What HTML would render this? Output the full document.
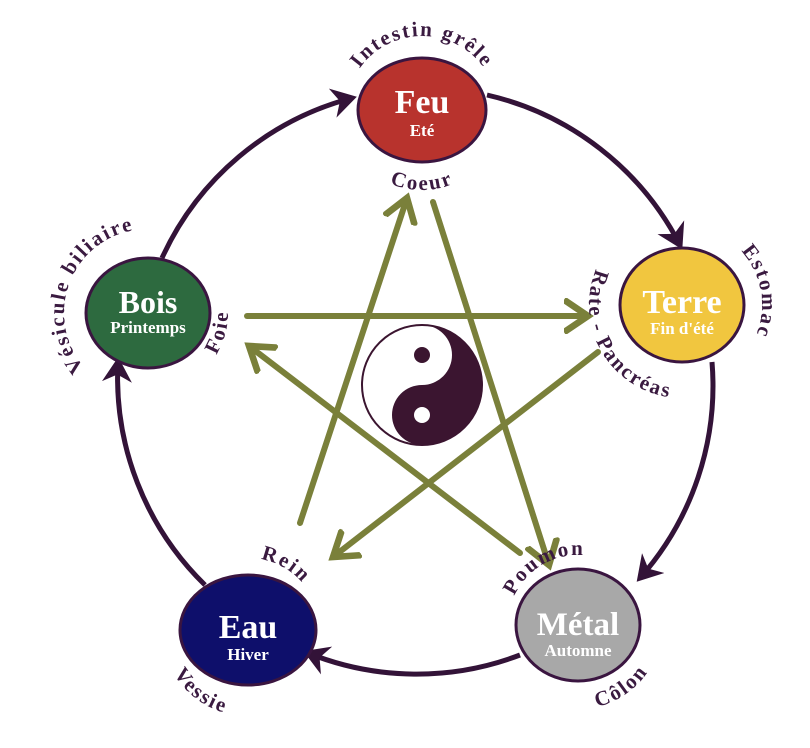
<!DOCTYPE html>
<html><head><meta charset="utf-8"><style>
html,body{margin:0;padding:0;background:#fff;width:810px;height:748px;overflow:hidden}
svg{display:block}
.lab{font-family:"Liberation Serif",serif;font-weight:bold;fill:#3a1a40;font-size:21px;letter-spacing:2px}
.big{font-family:"Liberation Serif",serif;font-weight:bold;fill:#fff;text-anchor:middle}
</style></head><body>
<svg width="810" height="748" viewBox="0 0 810 748" xmlns="http://www.w3.org/2000/svg">
<defs>
<marker id="pa" markerWidth="6" markerHeight="6" refX="4" refY="3" orient="auto" markerUnits="strokeWidth"><path d="M0,0 L5,3 L0,6 L1.5,3 Z" fill="#331338"/></marker>
<marker id="ga" markerWidth="5" markerHeight="6" refX="4" refY="3" orient="auto" markerUnits="strokeWidth"><path d="M0,0.3 L4,3 L0,5.7" fill="none" stroke="#7a803a" stroke-width="1.1"/></marker>
<path id="p1"/><path id="p2"/><path id="p3"/><path id="p4"/><path id="p5"/><path id="p6"/><path id="p7"/><path id="p8"/><path id="p9"/><path id="p10"/>
</defs>
<g fill="none" stroke="#331338" stroke-width="5">
<path d="M487,95 A290,290 0 0 1 680,245" marker-end="url(#pa)"/>
<path d="M712,362 A290,290 0 0 1 640,578" marker-end="url(#pa)"/>
<path d="M520,655 A290,290 0 0 1 308,653" marker-end="url(#pa)"/>
<path d="M205,585 A290,290 0 0 1 118,362" marker-end="url(#pa)"/>
<path d="M162,258 A290,290 0 0 1 352,98" marker-end="url(#pa)"/>
</g>
<g fill="none" stroke="#7a803a" stroke-width="6" stroke-linecap="round">
<line x1="247" y1="316" x2="588" y2="316" marker-end="url(#ga)"/>
<line x1="433" y1="202" x2="549" y2="565" marker-end="url(#ga)"/>
<line x1="520" y1="553" x2="249" y2="346" marker-end="url(#ga)"/>
<line x1="598" y1="352" x2="333" y2="557" marker-end="url(#ga)"/>
<line x1="300" y1="523" x2="407" y2="198" marker-end="url(#ga)"/>
</g>
<g transform="translate(422,385)">
<circle r="60" fill="#fff" stroke="#3b1530" stroke-width="2"/>
<path d="M0,-60 A60,60 0 0 1 0,60 A30,30 0 0 1 0,0 A30,30 0 0 0 0,-60 Z" fill="#3b1530"/>
<circle cx="0" cy="-30" r="8" fill="#3b1530"/>
<circle cx="0" cy="30" r="8" fill="#fff"/>
</g>
<g stroke="#3a1540" stroke-width="3">
<ellipse cx="422" cy="110" rx="64" ry="52" fill="#b8332d"/>
<ellipse cx="682" cy="305" rx="62" ry="57" fill="#f1c63f"/>
<ellipse cx="148" cy="313" rx="62" ry="55" fill="#2d6a3f"/>
<ellipse cx="248" cy="630" rx="68" ry="55" fill="#0e0f6b"/>
<ellipse cx="578" cy="625" rx="62" ry="56" fill="#a8a8a8"/>
</g>
<text class="big" x="422" y="113" font-size="34">Feu</text>
<text class="big" x="422" y="136" font-size="17">Eté</text>
<text class="big" x="682" y="313" font-size="34">Terre</text>
<text class="big" x="682" y="334" font-size="17">Fin d'été</text>
<text class="big" x="148" y="313" font-size="32">Bois</text>
<text class="big" x="148" y="333" font-size="17">Printemps</text>
<text class="big" x="248" y="638" font-size="34">Eau</text>
<text class="big" x="248" y="660" font-size="17">Hiver</text>
<text class="big" x="578" y="635" font-size="33">Métal</text>
<text class="big" x="578" y="656" font-size="17">Automne</text>
<text class="lab"><textPath href="#p1" startOffset="50%" text-anchor="middle">Intestin grêle</textPath></text>
<text class="lab"><textPath href="#p2" startOffset="50%" text-anchor="middle">Coeur</textPath></text>
<text class="lab"><textPath href="#p3" startOffset="50%" text-anchor="middle">Estomac</textPath></text>
<text class="lab"><textPath href="#p4" startOffset="50%" text-anchor="middle">Rate - Pancréas</textPath></text>
<text class="lab"><textPath href="#p5" startOffset="50%" text-anchor="middle">Vésicule biliaire</textPath></text>
<text class="lab"><textPath href="#p6" startOffset="50%" text-anchor="middle">Foie</textPath></text>
<text class="lab"><textPath href="#p7" startOffset="50%" text-anchor="middle">Rein</textPath></text>
<text class="lab"><textPath href="#p8" startOffset="50%" text-anchor="middle">Vessie</textPath></text>
<text class="lab"><textPath href="#p9" startOffset="50%" text-anchor="middle">Poumon</textPath></text>
<text class="lab"><textPath href="#p10" startOffset="50%" text-anchor="middle">Côlon</textPath></text>
</svg>
<script>
function arc(id,cx,cy,r,a1,a2,cw){
 var t=Math.PI/180,x1=cx+r*Math.cos(a1*t),y1=cy+r*Math.sin(a1*t),x2=cx+r*Math.cos(a2*t),y2=cy+r*Math.sin(a2*t);
 var span=cw?(a2-a1):(a1-a2); span=((span%360)+360)%360;
 document.getElementById(id).setAttribute('d','M'+x1+','+y1+' A'+r+','+r+' 0 '+(span>180?1:0)+' '+(cw?1:0)+' '+x2+','+y2);
}
arc('p1',422,112,76,-175,-5,1);
arc('p2',422,108,82,140,40,0);
arc('p3',682,305,80,-85,65,1);
arc('p4',682,305,93,235,65,0);
arc('p5',148,313,84,100,300,1);
arc('p6',148,313,80,50,-20,0);
arc('p7',248,630,72,-110,-10,1);
arc('p8',248,630,86,175,80,0);
arc('p9',578,625,70,-175,-65,1);
arc('p10',578,625,84,100,10,0);
</script>
</body></html>
